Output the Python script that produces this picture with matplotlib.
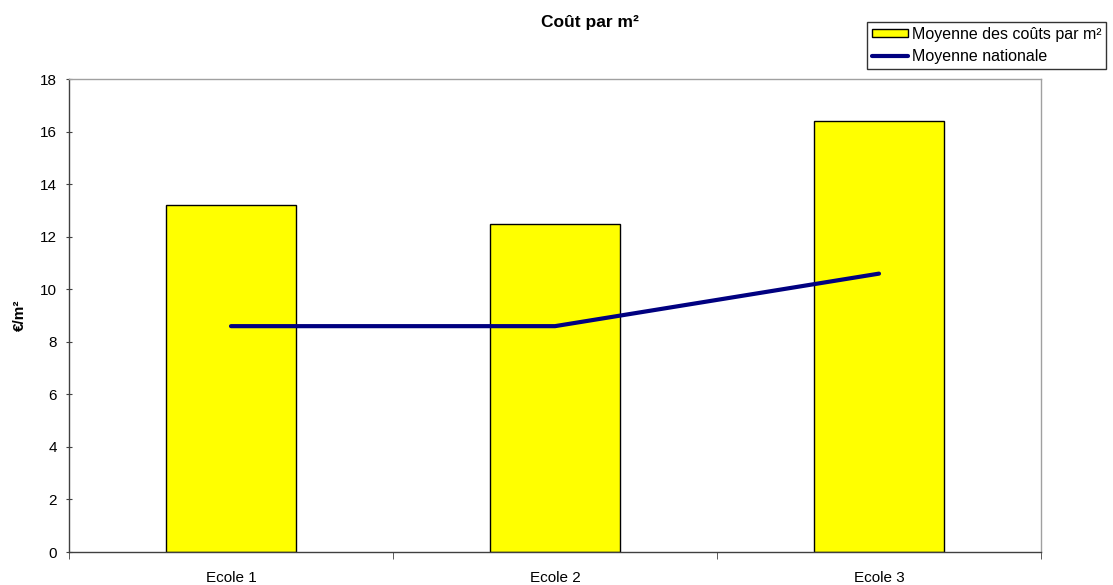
import matplotlib
matplotlib.use("Agg")
import matplotlib.pyplot as plt
import numpy as np

plt.rcParams['font.family'] = ['Liberation Sans', 'DejaVu Sans']

categories = ["Ecole 1", "Ecole 2", "Ecole 3"]
couts = [13.2, 12.48, 16.4]
nationale = [8.6, 8.6, 10.6]
yticks = [0, 2, 4, 6, 8, 10, 12, 14, 16, 18]

fig = plt.figure(figsize=(11.13, 5.85), dpi=100)
ax = fig.add_axes([69/1113, 1-552/585, (1041-69)/1113, (552-79.3)/585])

x = np.arange(len(categories))
bars = ax.bar(x, couts, width=0.4, color='#FFFF00', edgecolor='black', linewidth=1.0,
              label='Moyenne des coûts par m²', zorder=2)
line, = ax.plot(x, nationale, color='#000080', linewidth=3, label='Moyenne nationale',
                zorder=3, solid_capstyle='round')

ax.set_xlim(-0.5, 2.5)
ax.set_ylim(0, 18)
ax.set_yticks(yticks)
ax.set_xticks(x)
ax.set_xticklabels(categories, fontsize=11)
ax.set_xticks([-0.5, 0.5, 1.5, 2.5], minor=True)
ax.tick_params(axis='x', which='major', length=0, pad=14)
ax.tick_params(axis='x', which='minor', length=5, direction='out', color='#404040')
ax.tick_params(axis='y', which='major', length=5, direction='inout', labelsize=11,
               color='#404040', pad=6)

for side in ['left', 'bottom']:
    ax.spines[side].set_color('#404040')
    ax.spines[side].set_linewidth(1.0)
for side in ['top', 'right']:
    ax.spines[side].set_color('#A0A0A0')
    ax.spines[side].set_linewidth(1.0)

fig.text(20/1113, 1-315/585, '€/m²', ha='center', va='center', rotation=90,
         fontsize=11, fontweight='bold')
fig.text(590/1113, 1-23/585, 'Coût par m²', ha='center', va='center',
         fontsize=12.5, fontweight='bold')

leg = fig.legend([bars, line], ['Moyenne des coûts par m²', 'Moyenne nationale'],
                 loc='upper left', bbox_to_anchor=(867/1113, 1-22/585),
                 fontsize=11.5, frameon=True, fancybox=False, borderpad=0.3,
                 handlelength=2.25, handleheight=0.45, handletextpad=0.25,
                 labelspacing=0.45, borderaxespad=0)
leg.get_frame().set_edgecolor('black')
leg.get_frame().set_linewidth(1.0)

fig.savefig('out.png', dpi=100)
